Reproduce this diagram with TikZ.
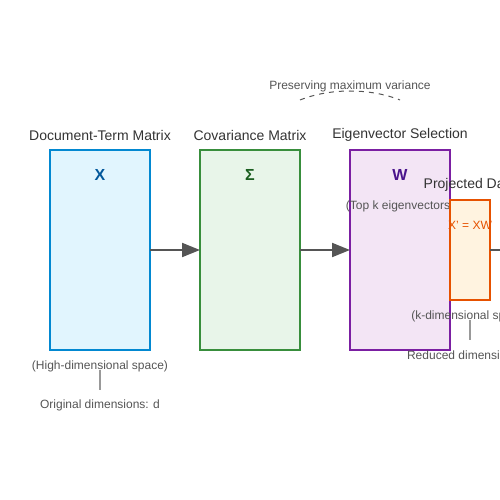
\documentclass[tikz,border=0pt]{standalone}
\usepackage{fontspec}
\setmainfont{Liberation Sans}
\usetikzlibrary{arrows.meta}
\definecolor{ctitle}{HTML}{333333}
\definecolor{csub}{HTML}{555555}
\definecolor{cline}{HTML}{999999}
\definecolor{bfill}{HTML}{E1F5FE}\definecolor{bdraw}{HTML}{0288D1}\definecolor{btext}{HTML}{01579B}
\definecolor{gfill}{HTML}{E8F5E9}\definecolor{gdraw}{HTML}{388E3C}\definecolor{gtext}{HTML}{1B5E20}
\definecolor{pfill}{HTML}{F3E5F5}\definecolor{pdraw}{HTML}{7B1FA2}\definecolor{ptext}{HTML}{4A148C}
\definecolor{ofill}{HTML}{FFF3E0}\definecolor{odraw}{HTML}{E65100}
\definecolor{carrow}{HTML}{555555}
\tikzset{
  matbox/.style={draw, line width=2pt, inner sep=0pt, outer sep=0pt, minimum width=100pt, minimum height=200pt, anchor=north west},
  title/.style={font=\fontsize{14}{14}\selectfont, text=ctitle, inner sep=0pt},
  sym/.style={font=\fontsize{16}{16}\selectfont\bfseries, inner sep=0pt},
  sub/.style={font=\fontsize{12}{12}\selectfont, text=csub, inner sep=0pt},
  flow/.style={draw=carrow, line width=2pt, -{Triangle[length=18pt,width=14pt]}},
  tick/.style={draw=cline, line width=1.5pt},
}
\begin{document}
\begin{tikzpicture}[x=1pt,y=-1pt]
\useasboundingbox (0,0) rectangle (500,500);
\clip (0,0) rectangle (500,500);
% boxes
\node[matbox, fill=bfill, draw=bdraw] (bx) at (50,150) {};
\node[matbox, fill=gfill, draw=gdraw] (bs) at (200,150) {};
\node[matbox, fill=pfill, draw=pdraw] (bw) at (350,150) {};
% titles
\node[title] (tx) at (100,135) {Document-Term Matrix};
\node[title] (ts) at (250,135) {Covariance Matrix};
\node[title] (tw) at (400,135) {Eigenvector Selection};
% symbols
\node[sym, text=btext] (sx) at (100,175) {X};
\node[sym, text=gtext] (ss) at (250,175) {Σ};
\node[sym, text=ptext] (sw) at (400,175) {W};
\node[sub] (topk) at (400,206) {(Top k eigenvectors)};
% projected
\node[title] (tp) at (470,185) {Projected Data};
\node[draw=odraw, fill=ofill, line width=2pt, inner sep=0pt, outer sep=0pt, minimum width=40pt, minimum height=100pt, anchor=north west] (bp) at (450,200) {};
\node[sub, text=odraw] (xp) at (470,225) {X' = XW};
% arrows
\draw[flow] (bx.east) -- (bs.west);
\draw[flow] (bs.east) -- (bw.west);
\coordinate (pend) at (520,250);
\draw[flow] (bp.east) -- (pend);
% arc
\node[sub] (pres) at (350,86) {Preserving maximum variance};
\coordinate (a1) at (300,100);
\coordinate (a2) at (400,100);
\draw[draw=csub, line width=1pt, dash pattern=on 5pt off 5pt] (a1) .. controls (330,88) and (370,88) .. (a2);
% bottom notes
\node[sub] (hd) at (100,366) {(High-dimensional space)};
\node[sub] (od) at (100,405) {Original dimensions: d};
\coordinate (l1a) at (100,370);
\coordinate (l1b) at (100,390);
\draw[tick] (l1a) -- (l1b);
\node[sub] (kd) at (470,316) {(k-dimensional space)};
\node[sub] (rd) at (470,355) {Reduced dimensions: k};
\coordinate (l2a) at (470,320);
\coordinate (l2b) at (470,340);
\draw[tick] (l2a) -- (l2b);
\end{tikzpicture}
\end{document}
